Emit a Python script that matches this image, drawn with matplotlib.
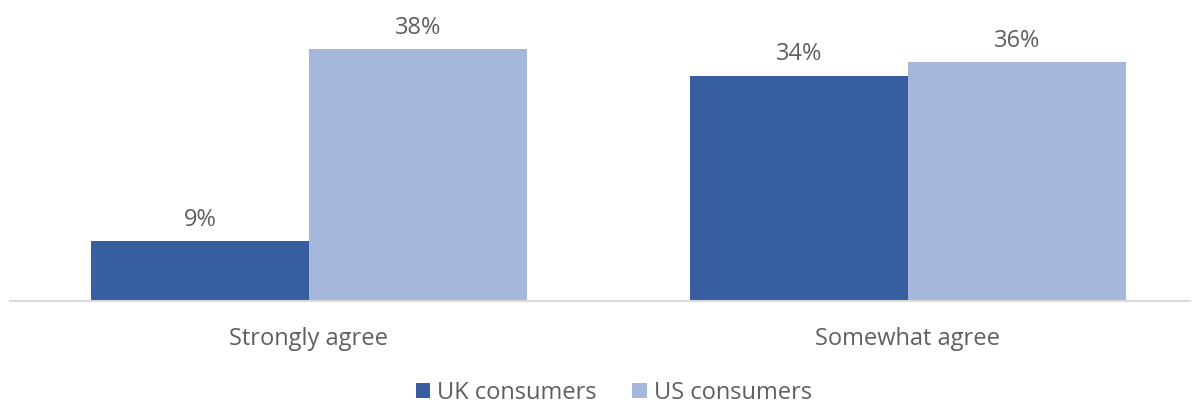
import numpy as np
import matplotlib.pyplot as plt

plt.rcParams['font.family'] = ['Open Sans', 'DejaVu Sans']

categories = ['Strongly agree', 'Somewhat agree']
uk_values = [9, 34]
us_values = [38, 36]
series_names = ['UK consumers', 'US consumers']

uk_color = '#365EA0'
us_color = '#A7B6DB'
text_color = '#5F5F5F'

fig = plt.figure(figsize=(12.01, 4.05), dpi=100)
ax = fig.add_axes([10 / 1201, 104 / 405, 1180 / 1201, 265 / 405])

x = np.arange(len(categories))
w = 0.364
b1 = ax.bar(x - w / 2, uk_values, w, color=uk_color, label=series_names[0])
b2 = ax.bar(x + w / 2, us_values, w, color=us_color, label=series_names[1])

# value labels above each bar
for bars, vals in ((b1, uk_values), (b2, us_values)):
    for rect, v in zip(bars, vals):
        ax.annotate(f'{v}%', (rect.get_x() + rect.get_width() / 2, v),
                    xytext=(0, 7), textcoords='offset points',
                    ha='center', va='bottom', fontsize=17, color=text_color)

ax.set_xlim(-0.499, 1.471)
ax.set_ylim(0, 40)
ax.set_xticks(x)
ax.set_xticklabels(categories, fontsize=17, color=text_color)
ax.tick_params(axis='x', length=0, pad=19)
ax.set_yticks([])
for s in ['top', 'right', 'left']:
    ax.spines[s].set_visible(False)
ax.spines['bottom'].set_color('#D9D9D9')
ax.spines['bottom'].set_linewidth(1.5)

fig.legend(loc='center', bbox_to_anchor=(614 / 1201, 12 / 405), ncol=2, frameon=False,
           fontsize=17, labelcolor=text_color, handlelength=0.6, handleheight=0.6,
           handletextpad=0.3, columnspacing=1.5)

fig.savefig('out.png', dpi=100)
